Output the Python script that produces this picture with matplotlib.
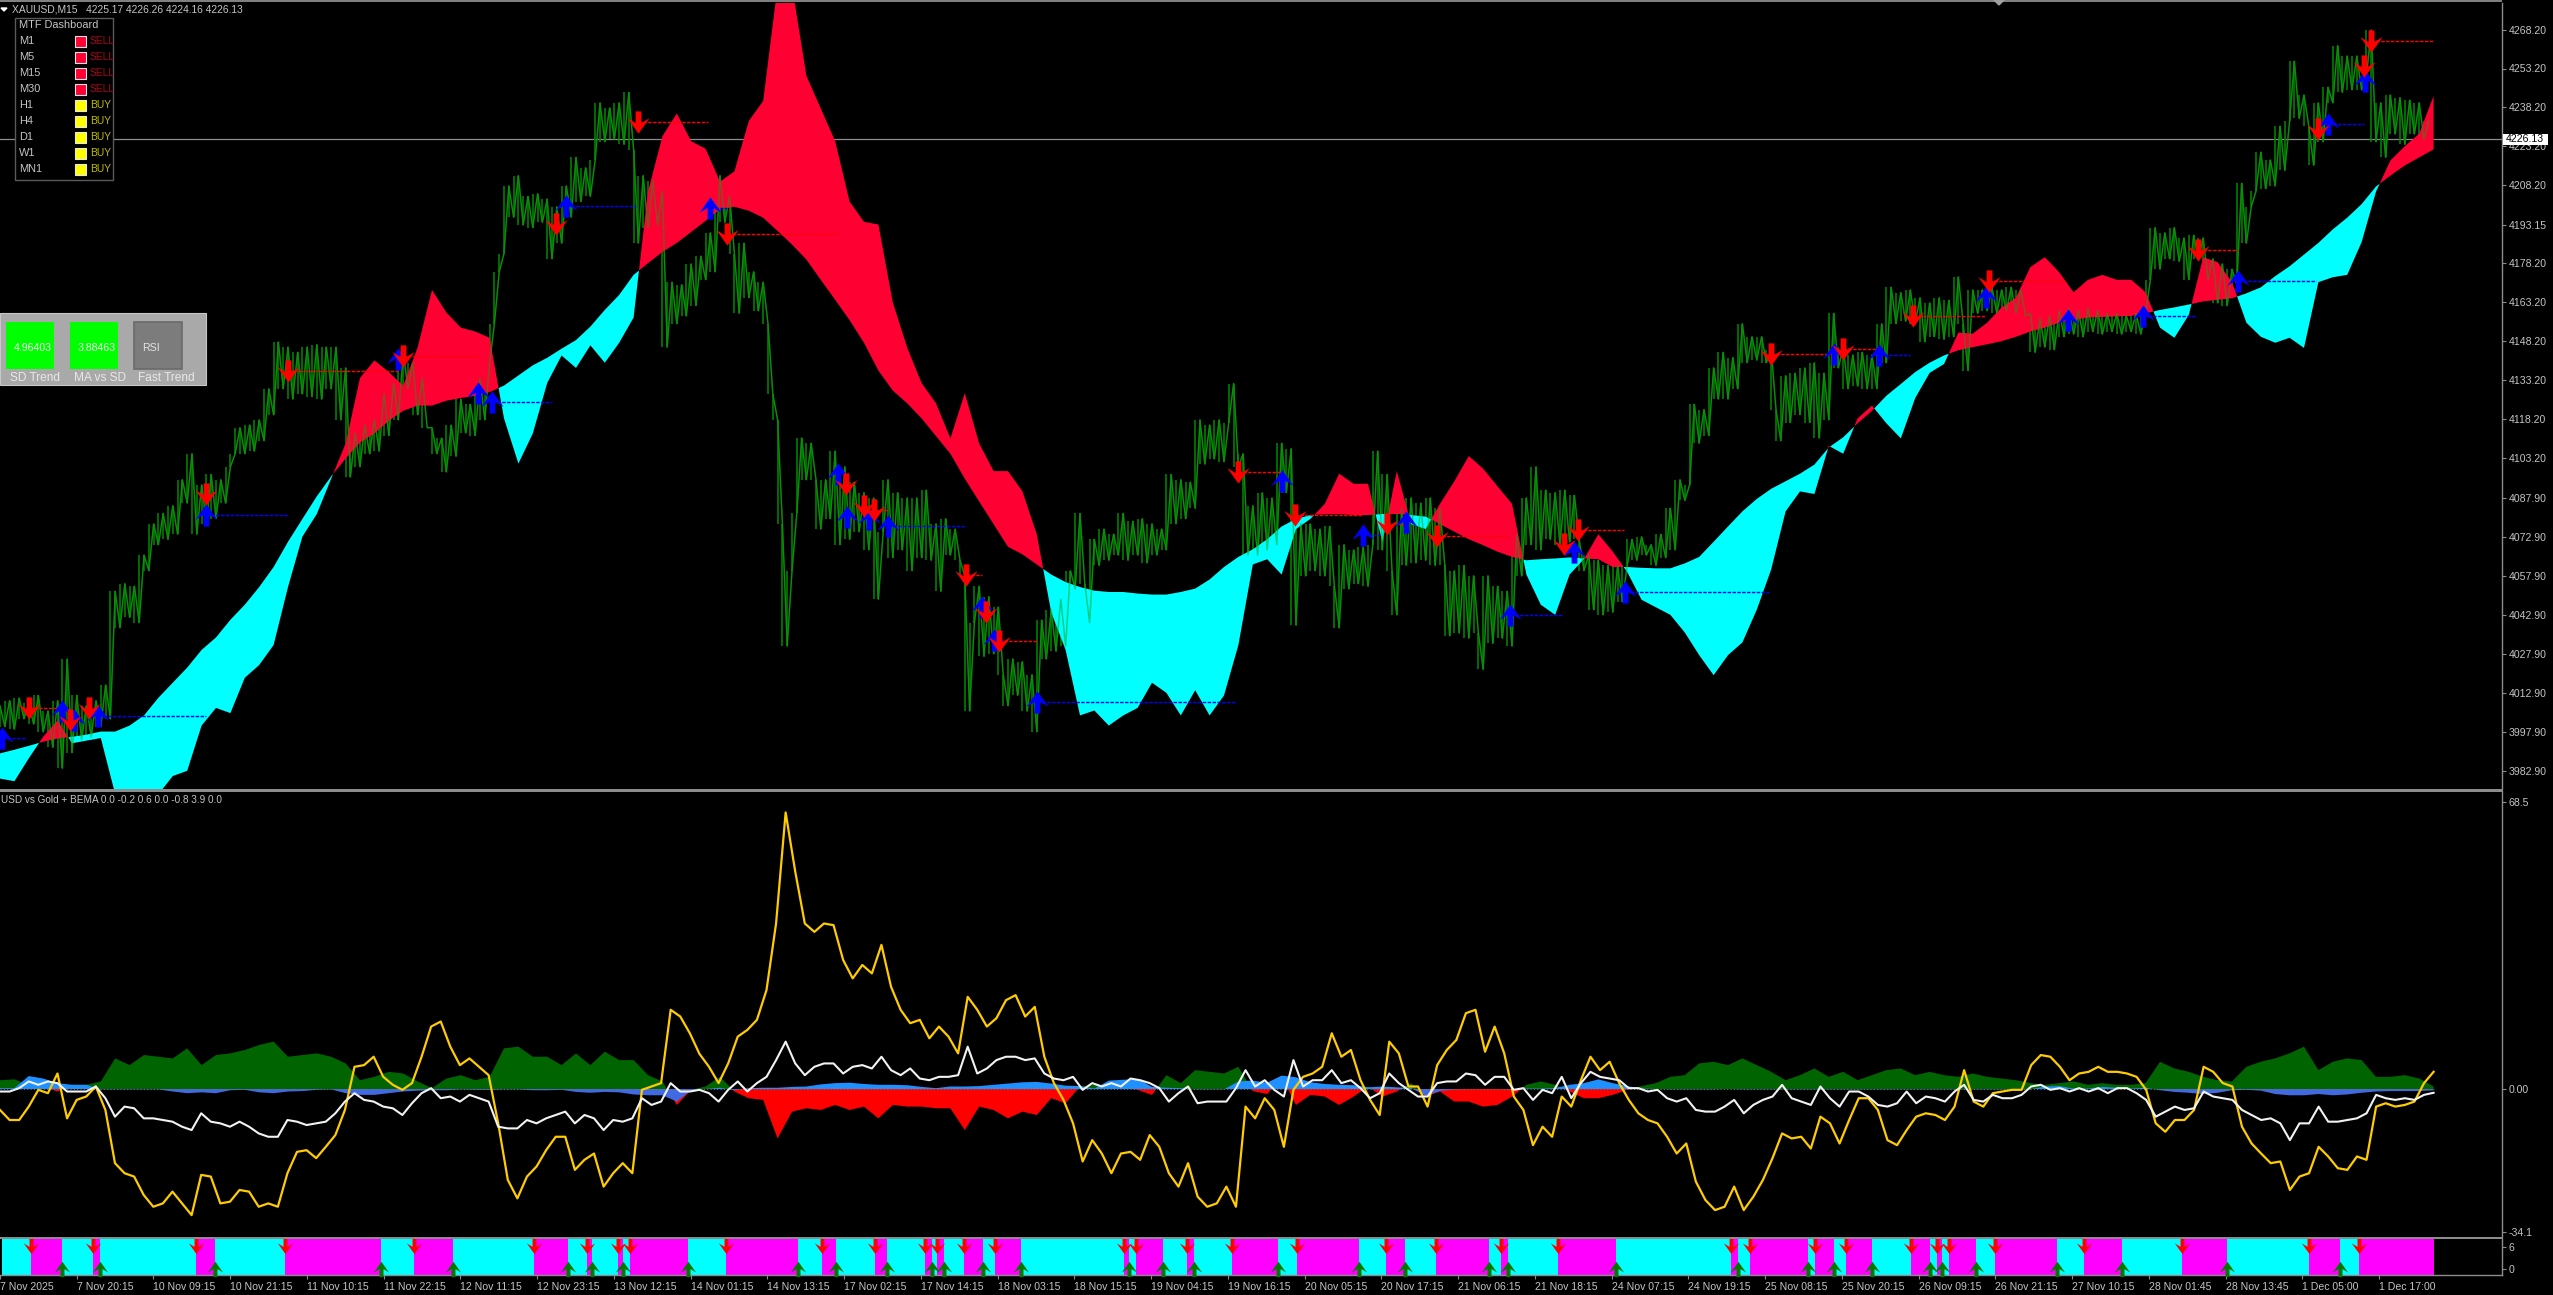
import matplotlib
matplotlib.use("Agg")
import matplotlib.pyplot as plt
from matplotlib.path import Path
from matplotlib.patches import Rectangle
import numpy as np

W, H = 2553, 1295
plt.rcParams['font.family'] = ['Liberation Sans', 'DejaVu Sans']

# ---- price swing, one reading every 2 bars, alternating highs and lows
price_swing = [
4008,4000,4010,3999,4011,4003,4009,4001,4012,3998,
4006,3992,4010,3984,4026,3990,4012,3995,4008,3996,
4010,4000,4016,4003,4052,4038,4055,4042,4054,4040,
4066,4060,4078,4070,4082,4072,4085,4074,4095,4086,
4105,4074,4093,4078,4097,4080,4095,4086,4100,4105,
4115,4105,4116,4106,4118,4110,4130,4120,4148,4130,
4146,4126,4144,4128,4146,4127,4147,4126,4146,4130,
4146,4118,4138,4096,4113,4100,4116,4105,4118,4106,
4128,4112,4132,4118,4144,4130,4140,4120,4134,4115,
4115,4105,4111,4098,4116,4104,4126,4113,4124,4112,
4134,4118,4140,4155,4175,4182,4208,4196,4212,4193,
4204,4192,4205,4194,4203,4180,4200,4186,4208,4196,
4219,4202,4215,4204,4218,4240,4225,4238,4226,4240,
4224,4244,4222,4186,4212,4192,4210,4193,4206,4146,
4171,4155,4170,4158,4178,4162,4181,4172,4190,4175,
4212,4194,4204,4182,4159,4186,4165,4175,4160,4171,
4155,4128,4118,4078,4031,4060,4082,4111,4095,4109,
4095,4076,4095,4080,4106,4070,4100,4072,4094,4075,
4090,4068,4088,4049,4075,4095,4065,4090,4068,4088,
4060,4088,4065,4091,4064,4078,4052,4080,4066,4076,
4064,4058,4006,4040,4054,4027,4050,4028,4046,4020,
4008,4026,4012,4025,4006,4020,3998,4041,4026,4045,
4029,4049,4031,4060,4053,4082,4055,4040,4072,4062,
4076,4064,4074,4066,4082,4064,4079,4066,4080,4063,
4078,4066,4076,4068,4097,4078,4095,4080,4094,4084,
4118,4101,4116,4103,4118,4102,4117,4132,4100,4105,
4066,4085,4066,4090,4068,4088,4070,4109,4090,4107,
4039,4078,4058,4078,4060,4076,4058,4077,4054,4038,
4070,4053,4068,4055,4069,4054,4070,4106,4068,4097,
4060,4043,4084,4062,4088,4063,4086,4064,4088,4062,
4084,4062,4035,4060,4036,4062,4034,4058,4036,4022,
4058,4032,4054,4034,4052,4031,4074,4058,4088,4070,
4100,4068,4091,4072,4090,4070,4091,4071,4089,4072,
4060,4066,4045,4064,4043,4062,4044,4062,4048,4062,
4072,4064,4073,4066,4070,4062,4074,4065,4084,4068,
4095,4087,4093,4124,4109,4122,4112,4138,4126,4144,
4126,4142,4130,4155,4140,4150,4141,4150,4140,4145,
4122,4110,4135,4117,4136,4120,4138,4117,4140,4111,
4136,4118,4159,4138,4146,4130,4143,4131,4144,4130,
4143,4130,4155,4140,4169,4155,4167,4156,4168,4155,
4165,4148,4163,4150,4165,4149,4164,4150,4173,4155,
4137,4168,4159,4168,4160,4169,4159,4168,4160,4169,
4159,4168,4158,4159,4144,4157,4146,4158,4145,4160,
4150,4161,4151,4160,4150,4161,4152,4160,4151,4159,
4152,4159,4151,4158,4152,4159,4151,4159,4172,4192,
4176,4190,4180,4192,4179,4188,4172,4189,4180,4188,
4172,4180,4163,4178,4162,4176,4170,4209,4186,4200,
4206,4221,4207,4218,4208,4231,4214,4233,4256,4234,
4243,4231,4216,4240,4225,4246,4240,4262,4244,4258,
4245,4258,4245,4250,4268,4225,4240,4219,4243,4228,
4242,4224,4241,4228,4240,4226,4233]

# ---- cloud, one reading every 6 bars
slow_line = [
3989.7,3991.1,3992.6,3994.2,3995.4,3996.1,3996.9,3998.1,3998.1,4000.4,
4004.3,4011.1,4016.9,4022.7,4029.5,4034.3,4041.1,4046.9,4053.7,4061.4,
4071.1,4079.9,4088.6,4096.3,4103.1,4109.3,4112.8,4117.6,4121.5,4123.5,
4123.5,4125.4,4126.4,4127.3,4128.7,4131.2,4135.1,4139.0,4141.9,4145.4,
4148.7,4153.9,4160.3,4166.1,4173.8,4178.3,4182.6,4186.1,4190.3,4194.6,
4199.0,4200.0,4198.5,4195.8,4190.7,4185.5,4179.7,4171.9,4164.2,4156.4,
4147.7,4137.0,4129.3,4124.4,4118.6,4111.8,4105.0,4095.4,4086.6,4077.9,
4069.2,4066.3,4062.4,4058.5,4055.6,4053.7,4052.3,4051.8,4051.8,4051.2,
4050.8,4050.8,4051.8,4053.1,4056.6,4061.4,4065.3,4068.2,4072.1,4077.0,
4079.9,4081.4,4081.8,4081.8,4081.4,4081.4,4081.8,4081.8,4081.4,4080.8,
4077.9,4075.0,4072.1,4069.8,4067.3,4065.3,4064.0,4064.4,4064.7,4065.1,
4064.7,4064.4,4061.4,4061.4,4061.1,4060.9,4060.9,4062.8,4065.3,4071.1,
4077.0,4082.8,4087.6,4091.5,4094.4,4097.3,4100.8,4107.4,4111.3,4116.7,
4121.5,4127.3,4131.8,4136.4,4140.0,4142.8,4144.8,4146.0,4147.1,4148.3,
4150.0,4152.0,4153.5,4155.4,4156.4,4157.4,4157.6,4157.8,4158.0,4159.0,
4160.3,4161.3,4162.4,4163.6,4164.2,4164.8,4166.7,4169.0,4173.3,4177.1,
4181.6,4186.1,4191.3,4195.8,4201.0,4207.8,4212.0,4215.9,4219.0,4222.1]
band_line = [
3980.0,3979.0,3987.8,3996.1,4002.4,3993.6,3994.6,3995.6,3974.0,3974.0,
3974.0,3974.0,3981.0,3983.0,4000.4,4007.2,4005.2,4018.8,4023.7,4031.4,
4053.7,4073.1,4081.8,4095.4,4108.9,4134.1,4140.9,4136.4,4131.2,4145.8,
4168.0,4159.3,4153.5,4152.0,4149.6,4118.6,4101.2,4112.8,4132.2,4142.8,
4138.0,4146.7,4140.0,4147.7,4157.4,4205.8,4227.1,4235.9,4225.2,4222.3,
4209.7,4213.6,4233.0,4240.7,4285.0,4285.0,4250.4,4237.8,4225.2,4202.0,
4194.2,4193.2,4163.2,4145.8,4132.2,4124.4,4110.9,4128.3,4108.9,4098.3,
4098.3,4090.5,4074.0,4044.0,4029.5,4004.3,4006.2,4000.4,4004.3,4007.2,
4016.9,4013.0,4004.3,4014.0,4004.3,4012.0,4031.4,4062.4,4064.4,4058.5,
4076.0,4079.9,4085.7,4097.3,4093.4,4093.4,4071.1,4098.3,4077.9,4076.0,
4085.7,4094.4,4104.1,4099.2,4092.4,4085.7,4058.5,4046.9,4043.0,4058.5,
4064.5,4074.0,4067.3,4059.5,4048.8,4045.9,4043.0,4036.2,4027.5,4019.8,
4027.5,4032.4,4045.0,4060.5,4082.8,4090.5,4089.5,4108.0,4105.0,4118.6,
4123.5,4116.7,4110.9,4126.4,4136.1,4139.5,4151.6,4151.2,4155.4,4161.3,
4165.1,4176.8,4180.6,4174.8,4167.1,4171.9,4173.8,4171.9,4171.9,4167.1,
4153.5,4149.6,4158.4,4180.6,4178.7,4171.0,4155.4,4150.0,4147.7,4149.6,
4145.7,4171.0,4172.9,4173.8,4186.4,4205.8,4217.8,4223.3,4228.1,4242.6]

# ---- signal arrows on the price pane
buy_bars   = [1,26,31,41,86,166,199,205,236,296,349,353,362,370,409,414,432,534,568,586,629,656,677,764,783,827.5,861.6,893,932.5,970,985.6]
buy_prices = [3995.5,4006.2,4002.4,4003.9,4081.4,4141.5,4128.3,4124.8,4200.2,4199.6,4097.3,4080.8,4079.9,4077.0,4046.0,4033.3,4009.3,4094.4,4073.6,4078.9,4043.0,4067.3,4051.8,4143.2,4142.9,4165.1,4156.4,4158.0,4171.3,4232.0,4248.5]
buy_ends   = [11,None,None,86,120,None,None,230,265,303,None,None,None,402,None,None,515,None,575,None,651,None,737,None,796,None,None,915,965,985,None]
sell_bars   = [12,29,37,86,120,168,231.5,266,303,352.5,360,364,402.7,411,416.4,515.8,539.5,578,598.7,651.7,657.4,737.8,768,797,828.6,915.8,966,985,988]
sell_prices = [4007.2,4002.4,4007.2,4089.5,4137.0,4142.5,4193.2,4232.8,4189.5,4093.4,4084.7,4083.3,4058.2,4044.0,4033.1,4097.9,4081.4,4077.9,4073.3,4070.2,4075.6,4143.2,4145.2,4158.0,4171.3,4183.4,4230.0,4254.3,4263.6]
sell_ends   = [26,None,None,None,166,199,None,295,349,None,None,370,409,None,432,533.6,568,586,629,None,676.6,764,783,827.5,861,932.5,None,None,1013.8]

# ---- oscillator lines, one reading every 4 bars
yellow_line = [
-5.0,-7.4,-7.4,-4.2,-0.2,-1.0,3.7,-7.0,-2.6,-1.8,0.6,-5.0,-17.7,-20.1,-20.9,-25.3,-28.1,-27.3,-24.5,-27.3,
-30.1,-20.5,-20.9,-27.3,-26.9,-24.1,-24.5,-28.1,-27.3,-28.1,-20.1,-15.0,-14.6,-16.5,-13.8,-11.0,-5.0,5.3,5.7,7.7,
2.9,1.0,-0.2,1.4,7.7,14.9,16.1,10.1,5.7,7.3,5.3,3.3,-8.2,-21.7,-26.1,-20.9,-18.5,-14.6,-11.4,-11.4,
-19.3,-16.9,-15.4,-23.3,-20.1,-17.7,-20.1,-0.2,0.6,1.4,18.9,17.3,13.3,8.4,5.3,1.4,6.1,12.5,14.1,16.5,
23.6,39.5,66.0,51.9,39.5,37.5,39.5,39.1,30.8,26.4,29.6,27.6,34.4,24.4,18.9,15.7,16.5,12.1,14.9,12.5,
8.5,22.0,18.9,14.9,16.9,21.2,22.4,17.3,19.6,7.7,1.4,-2.6,-8.2,-17.3,-12.2,-15.4,-20.1,-15.4,-15.0,-16.9,
-11.0,-13.8,-20.1,-23.3,-17.7,-25.7,-28.1,-27.3,-23.3,-28.1,-4.2,
-7.0,-2.2,-5.0,-13.8,-0.2,2.9,3.7,5.3,13.3,7.7,9.3,2.1,-2.6,-6.2,11.3,8.5,0.6,0.6,-4.2,5.7,
9.3,11.7,18.1,18.9,8.9,14.9,8.5,-1.8,-5.0,-13.4,-9.0,-11.4,-1.8,-4.2,2.1,7.7,4.5,6.5,1.4,-2.6,
-5.8,-7.4,-8.2,-11.4,-15.4,-13.0,-22.1,-26.5,-28.9,-28.1,-23.3,-28.9,-25.7,-21.7,-16.5,-10.6,-11.8,-11.4,-14.2,-6.6,
-8.2,-13.0,-7.4,-2.2,-2.2,-5.0,-12.2,-13.4,-9.8,-6.6,-5.8,-6.2,-7.4,-4.2,4.5,-3.0,-4.2,-1.0,-0.6,-0.2,
-0.2,5.7,8.1,7.7,5.3,2.1,3.7,4.1,5.3,4.1,4.1,3.7,2.9,-0.2,-8.2,-10.2,-7.4,-7.4,-5.0,5.3,
4.1,1.4,0.6,-9.0,-13.0,-15.4,-17.7,-17.3,-24.1,-20.9,-20.1,-13.8,-16.1,-18.9,-19.3,-16.1,-16.9,-4.2,-3.4,-4.2,
-3.8,-3.0,1.4,4.1]
white_line = [
-0.6,-0.6,0.2,1.8,1.0,1.8,1.4,-0.6,-0.6,-0.6,0.6,-2.2,-6.6,-4.2,-4.6,-7.0,-7.0,-7.4,-7.8,-9.0,
-9.8,-5.8,-7.8,-8.2,-9.0,-7.8,-9.0,-10.6,-11.4,-11.4,-7.4,-7.8,-8.6,-8.2,-7.8,-5.8,-3.0,-1.0,-2.6,-3.0,
-4.2,-4.6,-6.2,-3.4,-1.0,0.2,-2.2,-1.8,-3.0,-1.4,-2.2,-3.0,-9.0,-9.4,-9.4,-7.4,-8.2,-7.0,-6.2,-5.4,
-8.2,-6.2,-7.0,-9.8,-7.4,-7.8,-7.0,-2.2,-3.8,-3.0,1.4,-0.6,-0.6,-0.2,-1.0,-3.0,-0.2,1.8,-0.6,1.4,
2.9,6.9,11.3,6.1,3.3,5.3,6.1,6.1,3.7,5.3,5.7,4.9,7.7,4.5,3.3,4.9,2.5,2.1,2.9,2.9,
3.3,10.1,3.7,4.9,6.9,7.7,7.7,6.9,7.3,3.7,2.5,2.1,2.9,-0.2,1.4,0.6,1.4,0.6,2.5,2.1,
1.4,0.2,-3.0,-1.0,0.6,-3.4,-3.0,-3.0,-3.0,0.2,4.5,
0.6,2.1,-0.2,-1.8,6.9,0.6,2.1,2.1,4.5,1.4,2.1,0.2,-2.2,-1.0,3.7,1.4,-0.2,-1.8,-1.8,1.4,
1.8,1.8,3.7,3.3,1.0,2.9,2.9,-0.2,0.2,-2.6,-0.2,-1.0,2.9,-2.2,1.4,4.1,2.9,2.5,2.1,0.2,
0.2,-0.6,-0.2,-2.2,-3.0,-2.2,-5.0,-5.4,-5.4,-4.2,-2.6,-5.8,-3.8,-2.6,-1.8,1.0,-2.2,-3.0,-3.8,0.6,
-2.2,-4.2,-0.6,-0.6,-1.8,-3.8,-4.2,-3.4,-0.6,-3.4,-1.8,-2.2,-3.0,-0.6,1.0,-2.6,-3.0,-1.4,-2.2,-2.2,
-1.4,0.6,1.0,-0.2,0.2,-0.6,0.2,-0.6,0.2,-1.0,0.2,0.2,-1.0,-2.6,-6.6,-5.4,-4.2,-5.0,-4.6,-0.6,
-1.8,-2.2,-2.6,-5.0,-6.2,-7.4,-7.0,-8.2,-12.2,-8.2,-8.2,-4.2,-7.8,-7.8,-7.4,-7.0,-5.8,-1.4,-2.2,-2.6,
-2.2,-2.6,-1.4,-0.9]

# ---- oscillator histograms, one reading every 6 bars
gold_hist = [
2.1,2.3,1.0,0.5,-0.6,1.0,1.0,1.8,7.3,5.7,8.1,7.7,7.3,9.7,5.7,8.1,8.5,9.3,10.5,11.3,
7.7,8.1,8.5,7.7,6.1,2.1,2.9,4.1,3.7,1.8,0.2,2.5,3.3,2.1,2.9,9.7,10.1,7.7,7.7,5.7,
8.5,5.7,8.9,6.9,6.9,3.3,1.8,-3.8,-0.2,0.6,2.9,-0.6,-2.2,-2.6,-11.8,-5.4,-4.6,-5.0,-3.8,-5.0,
-4.2,-7.0,-3.8,-4.2,-4.2,-4.6,-4.6,-9.8,-4.2,-5.0,-7.0,-5.4,-6.2,-2.2,-3.4,0.6,1.0,0.2,0.2,-0.2,
-1.4,3.3,1.4,4.5,4.1,3.7,5.3,-0.5,-1.2,2.9,-3.8,-1.4,-1.8,-3.8,-1.8,0.6,-1.8,-0.6,1.4,-1.8,
-0.6,-3.0,-3.0,-4.2,-3.8,-1.8,1.0,1.8,1.0,-0.6,-2.2,-2.2,-1.4,-0.2,0.7,1.4,2.9,3.3,6.1,6.5,
5.7,7.3,5.7,4.1,2.1,3.3,4.9,2.9,4.1,2.1,3.3,4.5,4.9,3.3,4.1,3.3,2.9,3.7,2.9,2.5,
2.1,1.4,1.0,1.4,1.8,1.0,1.4,1.0,1.0,1.4,6.5,4.9,4.1,2.9,2.1,1.8,5.3,6.5,7.3,8.5,
10.1,4.5,6.5,7.3,6.9,2.9,2.9,3.3,2.5,0.6]
usd_hist = [
0.2,0.2,3.1,2.5,1.4,1.0,1.0,-0.1,-0.1,-0.1,-0.1,-0.1,-0.6,-1.0,-0.8,-1.0,-0.3,-0.2,-0.8,-1.0,
-0.6,-0.5,-0.2,-0.1,-1.0,-1.4,-1.4,-1.0,-0.6,-0.4,-0.3,-0.3,-0.1,-0.2,-0.2,-0.1,-0.1,-0.3,-0.3,-0.2,
-0.7,-0.9,-0.7,-0.8,-1.3,-1.5,-1.5,-3.0,-0.3,0.0,0.3,-0.3,0.2,0.3,0.3,0.5,0.6,1.1,1.4,1.5,
1.2,1.0,1.0,0.9,0.5,0.2,0.6,0.6,0.7,1.0,1.3,1.6,1.7,1.3,0.8,0.7,0.1,2.0,2.2,2.4,
0.5,0.3,0.2,-0.1,-0.1,-0.1,1.8,2.0,1.5,3.2,2.8,1.6,1.2,1.0,0.9,0.4,0.6,0.4,0.2,-1.6,
-0.5,-0.1,0.0,0.0,0.0,-0.1,0.1,0.1,0.2,1.0,1.4,2.3,1.4,0.7,0.1,0.0,-0.1,-0.1,-0.1,-0.1,
0.0,-0.1,-0.1,-0.1,-0.1,-0.1,-0.1,-0.1,-0.1,-0.1,-0.1,-0.1,-0.1,-0.1,-0.1,-0.1,-0.1,-0.1,-0.1,-0.1,
-0.1,-0.1,0.6,0.7,0.1,0.1,0.5,0.3,0.1,0.3,-0.3,-0.7,-0.9,-1.2,-0.9,-0.3,-0.2,-0.4,-1.2,-1.5,
-1.5,-1.2,-1.5,-1.3,-0.9,-0.6,-0.5,-0.5,-0.5,-0.3]

# ---- bottom strip: bars where the state flips
flip_down = [12,38,81,118,172,222,244,257,262,302,342,364,385,390,401,414,468,473,494,513,
             540,577,598,625,649,721,729,756,769,796,807,812,831,868,909,962,983]
flip_up = [25,41,89,158,188,236,246,259,286,332,348,369,388,393,409,425,470,484,497,
           532,566,585,620,628,673,724,753,764,780,804,809,823,857,884,928,975]
last_bar = 1014

price_ticks = [4268.20,4253.20,4238.20,4223.20,4208.20,4193.15,4178.20,4163.20,4148.20,4133.20,
               4118.20,4103.20,4087.90,4072.90,4057.90,4042.90,4027.90,4012.90,3997.90,3982.90]
osc_ticks = [68.5, 0.0, -34.1]
strip_ticks = [6, 0]
time_labels = ['7 Nov 2025','7 Nov 20:15','10 Nov 09:15','10 Nov 21:15','11 Nov 10:15','11 Nov 22:15',
 '12 Nov 11:15','12 Nov 23:15','13 Nov 12:15','14 Nov 01:15','14 Nov 13:15','17 Nov 02:15','17 Nov 14:15',
 '18 Nov 03:15','18 Nov 15:15','19 Nov 04:15','19 Nov 16:15','20 Nov 05:15','20 Nov 17:15','21 Nov 06:15',
 '21 Nov 18:15','24 Nov 07:15','24 Nov 19:15','25 Nov 08:15','25 Nov 20:15','26 Nov 09:15','26 Nov 21:15',
 '27 Nov 10:15','28 Nov 01:45','28 Nov 13:45','1 Dec 05:00','1 Dec 17:00']
last_price = 4226.13
dash_rows = ['M1','M5','M15','M30','H1','H4','D1','W1','MN1']
dash_sig = ['SELL','SELL','SELL','SELL','BUY','BUY','BUY','BUY','BUY']

GREY = '#C4C4C4'
LINE = '#8C8C8C'
FS = 7.6
PANE_RIGHT = 2502
BAR_PX = 2.4

fig = plt.figure(figsize=(W/100, H/100), dpi=100, facecolor='black')

def pane(top, bottom):
    ax = fig.add_axes([0, 1-bottom/H, PANE_RIGHT/W, (bottom-top)/H], facecolor='black')
    ax.set_xlim(0, PANE_RIGHT/BAR_PX)
    ax.yaxis.tick_right()
    ax.tick_params(axis='y', colors=GREY, labelsize=FS, length=3, width=0.8, pad=2, color=LINE)
    ax.set_xticks([])
    for s in ('left', 'top', 'bottom'):
        ax.spines[s].set_visible(False)
    ax.spines['right'].set_color(LINE)
    ax.spines['right'].set_linewidth(1.0)
    return ax

# price pane
ax1 = pane(3, 789)
ax1.set_ylim(3976.0, 4278.4)
ax1.set_yticks(price_ticks)
ax1.set_yticklabels(['%.2f' % v for v in price_ticks])
px = np.arange(len(price_swing))*2
sw = np.array(price_swing, dtype=float)
ax1.vlines(px[:-1], sw[:-1], sw[1:], color='#008000', lw=1.2, zorder=2)
ax1.plot(px, sw, color='#008000', lw=0.9, zorder=2)
cx = np.arange(len(slow_line))*6
s = np.array(slow_line); b = np.array(band_line)
ax1.fill_between(cx, s, b, where=b >= s, interpolate=True, color='#FF0033', lw=0, zorder=3)
ax1.fill_between(cx, s, b, where=b <= s, interpolate=True, color='#00FFFF', lw=0, zorder=3)
ax1.plot(px, sw, color='#10A010', lw=1.1, alpha=0.5, zorder=4)
ax1.axhline(last_price, color=LINE, lw=0.9, zorder=1)

down_arrow = Path([(-0.26,1),(0.26,1),(0.26,-0.05),(1,0.4),(0,-1),(-1,0.4),(-0.26,-0.05),(-0.26,1)], closed=True)
up_arrow = Path([(-0.26,-1),(0.26,-1),(0.26,0.05),(1,-0.4),(0,1),(-1,-0.4),(-0.26,0.05),(-0.26,-1)], closed=True)

for xb, yp, xe in zip(buy_bars, buy_prices, buy_ends):
    if xe is not None:
        ax1.plot([xb, xe], [yp, yp], color='#0000FF', lw=1.0, ls=(0, (2.5, 1)), zorder=5)
for xb, yp, xe in zip(sell_bars, sell_prices, sell_ends):
    if xe is not None:
        ax1.plot([xb, xe], [yp, yp], color='#FF0000', lw=1.0, ls=(0, (2.5, 1)), zorder=5)
ax1.plot(buy_bars, buy_prices, ls='none', marker=up_arrow, ms=16, color='#0000FF', mew=0, zorder=6)
ax1.plot(sell_bars, sell_prices, ls='none', marker=down_arrow, ms=16, color='#FF0000', mew=0, zorder=6)

# oscillator pane
ax2 = pane(791, 1237)
ax2.set_ylim((1089-1237)/4.19, (1089-791)/4.19)
ax2.set_yticks(osc_ticks)
ax2.set_yticklabels(['68.5', '0.00', '-34.1'])
hx = np.arange(len(gold_hist))*6
g = np.array(gold_hist); u = np.array(usd_hist)
ax2.fill_between(hx, 0, g, where=g >= 0, interpolate=True, color='#006400', lw=0, zorder=2)
ax2.fill_between(hx, 0, g, where=g <= 0, interpolate=True, color='#FF0000', lw=0, zorder=2)
ax2.fill_between(hx, 0, u, where=u >= 0, interpolate=True, color='#1E90FF', lw=0, zorder=3)
ax2.fill_between(hx, 0, u, where=u <= 0, interpolate=True, color='#4169E1', lw=0, zorder=3)
ax2.plot([0, last_bar], [0, 0], color='#707070', lw=0.8, ls=(0, (1, 2)), zorder=4)
ax2.plot(np.linspace(0, last_bar, len(yellow_line)), yellow_line, color='#FFCC00', lw=1.6, zorder=5)
ax2.plot(np.linspace(0, last_bar, len(white_line)), white_line, color='#F2F2F2', lw=1.5, zorder=6)

# signal strip
ax3 = pane(1239, 1275)
ax3.set_ylim(-1.6, 8.2)
ax3.set_yticks(strip_ticks)
ax3.set_yticklabels(['6', '0'])
ax3.axvspan(0, last_bar, color='#00FFFF', lw=0, zorder=1)
for d in flip_down:
    nxt = [e for e in flip_up if e > d]
    ax3.axvspan(d, nxt[0] if nxt else last_bar, color='#FF00FF', lw=0, zorder=2)
ax3.plot(flip_down, [6.2]*len(flip_down), ls='none', marker=down_arrow, ms=11, color='#FF0000', mew=0, zorder=3, clip_on=False)
ax3.plot(flip_up, [0.0]*len(flip_up), ls='none', marker=up_arrow, ms=11, color='#007800', mew=0, zorder=3, clip_on=False)
ax3.set_xticks([32*i - 0.75 for i in range(len(time_labels))])
ax3.set_xticklabels(time_labels, ha='left')
ax3.tick_params(axis='x', colors=GREY, labelsize=FS, length=3, width=0.8, pad=2, color=LINE)
ax3.spines['bottom'].set_visible(True)
ax3.spines['bottom'].set_color(LINE)
ax3.spines['bottom'].set_linewidth(1.0)

# overlay in screen pixels for the terminal furniture
ov = fig.add_axes([0, 0, 1, 1], facecolor='none')
ov.set_xlim(0, W); ov.set_ylim(H, 0); ov.axis('off')

def rect(x0, y0, x1, y1, fc, ec='none', lw=0, z=10):
    ov.add_patch(Rectangle((x0, y0), x1-x0, y1-y0, facecolor=fc, edgecolor=ec, linewidth=lw, zorder=z))

def label(x, y, t, c=GREY, ha='left', z=12, fs=FS):
    ov.text(x, y, t, color=c, fontsize=fs, ha=ha, va='center', zorder=z)

rect(0, 0, PANE_RIGHT, 2, '#808080')
rect(0, 788.5, PANE_RIGHT+1, 791.5, '#8C8C8C')
rect(0, 1236.5, PANE_RIGHT+1, 1239, '#8C8C8C')
ov.fill([1, 7, 4], [8, 8, 11], color='white', zorder=12)
ov.fill([1994, 2004, 1999], [0, 0, 5], color='#A0A0A0', zorder=12)
label(12, 9, 'XAUUSD,M15   4225.17 4226.26 4224.16 4226.13', fs=7.4)
label(1, 800, 'USD vs Gold + BEMA 0.0 -0.2 0.6 0.0 -0.8 3.9 0.0', fs=7.2)

# MTF dashboard
rect(14.5, 18, 112.5, 180, 'black', '#5A5A5A', 1.0)
label(19, 25.5, 'MTF Dashboard', fs=7.9)
for i, (r, sig) in enumerate(zip(dash_rows, dash_sig)):
    y = 41 + 16*i
    label(19, y, r, fs=7.9)
    sell = sig == 'SELL'
    rect(74.5, y-5.5, 85.5, y+5.5, '#FF0033' if sell else '#FFFF00', '#E8E8E8', 0.8)
    label(90, y, sig, '#B00020' if sell else '#BDBD00', fs=7.4)

# control panel
rect(0, 313, 206, 385, '#A9A9A9', '#C8C8C8', 0.8)
rect(6, 322, 54, 369, '#00FF00')
rect(70, 322, 118, 369, '#00FF00')
rect(134, 322, 182, 369, '#7C7C7C', '#6A6A6A', 1.2)
label(14, 348, '4.96403', '#F0FFF0', fs=7.6)
label(78, 348, '3.88463', '#F0FFF0', fs=7.6)
label(142, 348, 'RSI', '#E4E4E4', fs=7.6)
label(10, 378, 'SD Trend', '#E8E8E8', fs=8.6)
label(74, 378, 'MA vs SD', '#E8E8E8', fs=8.6)
label(138, 378, 'Fast Trend', '#E8E8E8', fs=8.6)

# current price tag
rect(2503, 134, 2548, 144.5, 'white', z=11)
label(2506, 139.5, '%.2f' % last_price, 'black')

fig.savefig('out.png', dpi=100, facecolor='black')
